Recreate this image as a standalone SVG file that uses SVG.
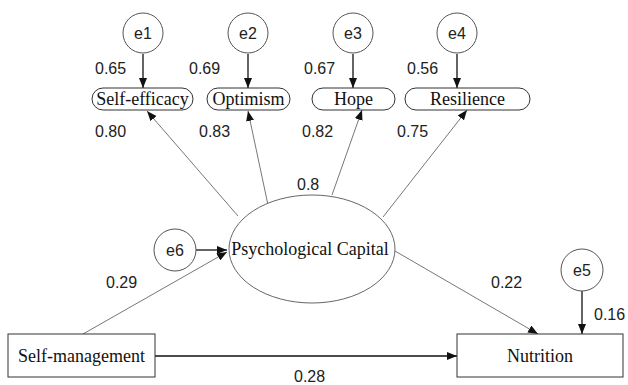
<svg xmlns="http://www.w3.org/2000/svg" width="628" height="385" viewBox="0 0 628 385">
<defs>
<style>
.node{fill:#fff;stroke:#333;stroke-width:1}
.err{fill:#fff;stroke:#555;stroke-width:1}
.serif{font-family:"Liberation Serif","Times New Roman",serif;font-size:18px;fill:#111}
.sans{font-family:"Liberation Sans",Arial,sans-serif;font-size:16px;fill:#222}
.esans{font-family:"Liberation Sans",Arial,sans-serif;font-size:16px;fill:#222}
.dark{stroke:#111;stroke-width:1.3;fill:none}
.thin{stroke:#777;stroke-width:1;fill:none}
</style>
<marker id="ah" viewBox="0 0 10 8" refX="10" refY="4" markerWidth="10" markerHeight="8" markerUnits="userSpaceOnUse" orient="auto">
<path d="M0,0 L10,4 L0,8 Z" fill="#111"/>
</marker>
</defs>
<rect width="628" height="385" fill="#fff"/>
<g id="connectors">
<line class="dark" x1="143" y1="54" x2="143" y2="88" marker-end="url(#ah)"/>
<line class="dark" x1="248" y1="54" x2="248" y2="88" marker-end="url(#ah)"/>
<line class="dark" x1="353" y1="54" x2="353" y2="88" marker-end="url(#ah)"/>
<line class="dark" x1="457" y1="54" x2="457" y2="88" marker-end="url(#ah)"/>
<line class="thin" x1="238" y1="216" x2="147" y2="111" marker-end="url(#ah)"/>
<line class="thin" x1="268" y1="205" x2="248" y2="111" marker-end="url(#ah)"/>
<line class="thin" x1="332" y1="195" x2="362" y2="110" marker-end="url(#ah)"/>
<line class="thin" x1="383" y1="217" x2="467" y2="110" marker-end="url(#ah)"/>
<line class="dark" x1="196" y1="250" x2="227" y2="250" marker-end="url(#ah)"/>
<line class="thin" x1="83" y1="334" x2="227" y2="252" marker-end="url(#ah)"/>
<line class="thin" x1="395" y1="251" x2="538" y2="334" marker-end="url(#ah)"/>
<line class="dark" x1="155" y1="356" x2="457" y2="356" marker-end="url(#ah)"/>
<line class="dark" x1="582" y1="291" x2="582" y2="334" marker-end="url(#ah)"/>
</g>
<g id="e1"><circle class="err" cx="143" cy="33" r="20"/><text class="esans" x="143" y="39" text-anchor="middle">e1</text></g>
<g id="e2"><circle class="err" cx="248" cy="33" r="20"/><text class="esans" x="248" y="39" text-anchor="middle">e2</text></g>
<g id="e3"><circle class="err" cx="353" cy="33" r="20"/><text class="esans" x="353" y="39" text-anchor="middle">e3</text></g>
<g id="e4"><circle class="err" cx="457" cy="33" r="20"/><text class="esans" x="457" y="39" text-anchor="middle">e4</text></g>
<g id="e5"><circle class="err" cx="582" cy="270" r="21"/><text class="esans" x="582" y="276" text-anchor="middle">e5</text></g>
<g id="e6"><circle class="err" cx="175" cy="250" r="21"/><text class="esans" x="175" y="256" text-anchor="middle">e6</text></g>
<g id="self-efficacy"><rect class="node" x="92" y="88" width="101" height="22" rx="11"/><text class="serif" x="142.5" y="105" text-anchor="middle">Self-efficacy</text></g>
<g id="optimism"><rect class="node" x="207" y="88" width="83" height="22" rx="11"/><text class="serif" x="248.5" y="105" text-anchor="middle">Optimism</text></g>
<g id="hope"><rect class="node" x="312" y="88" width="83" height="22" rx="11"/><text class="serif" x="353.5" y="105" text-anchor="middle">Hope</text></g>
<g id="resilience"><rect class="node" x="405" y="88" width="125" height="22" rx="11"/><text class="serif" x="467.5" y="105" text-anchor="middle">Resilience</text></g>
<g id="psycap"><ellipse class="node" cx="312" cy="249" rx="83" ry="54" style="stroke:#666"/><text class="serif" x="310" y="255" text-anchor="middle">Psychological Capital</text></g>
<g id="self-management"><rect class="node" x="8" y="334" width="147" height="43"/><text class="serif" x="81.5" y="362" text-anchor="middle">Self-management</text></g>
<g id="nutrition"><rect class="node" x="457" y="334" width="166" height="43"/><text class="serif" x="540" y="362" text-anchor="middle">Nutrition</text></g>
<g id="labels">
<text class="sans" x="95" y="74">0.65</text>
<text class="sans" x="189" y="74">0.69</text>
<text class="sans" x="304" y="74">0.67</text>
<text class="sans" x="407" y="74">0.56</text>
<text class="sans" x="95" y="137">0.80</text>
<text class="sans" x="199" y="137">0.83</text>
<text class="sans" x="302" y="137">0.82</text>
<text class="sans" x="397" y="137">0.75</text>
<text class="sans" x="297" y="190">0.8</text>
<text class="sans" x="106" y="288">0.29</text>
<text class="sans" x="491" y="288">0.22</text>
<text class="sans" x="594" y="320">0.16</text>
<text class="sans" x="294" y="382">0.28</text>
</g>
</svg>
